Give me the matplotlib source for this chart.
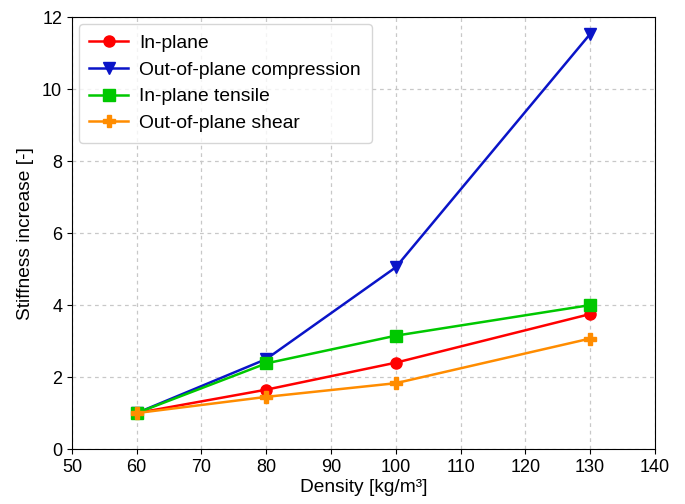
import numpy as np
import matplotlib
matplotlib.use("Agg")
import matplotlib.pyplot as plt

plt.rcParams['font.family'] = ['Liberation Sans', 'DejaVu Sans']

# Data
density = [60, 80, 100, 130]
in_plane = [1.0, 1.65, 2.40, 3.75]
oop_compression = [1.0, 2.50, 5.05, 11.53]
in_plane_tensile = [1.0, 2.38, 3.15, 4.00]
oop_shear = [1.0, 1.45, 1.83, 3.07]

labels = ["In-plane", "Out-of-plane compression", "In-plane tensile", "Out-of-plane shear"]

fig = plt.figure(figsize=(6.85, 5.04), dpi=100)
ax = fig.add_axes([0.105, 0.109, 0.851, 0.857])

ax.plot(density, in_plane, color="#ff0000", marker="o", markersize=8, lw=1.8, label=labels[0])
ax.plot(density, oop_compression, color="#0a14c8", marker="v", markersize=8, lw=1.8, label=labels[1])
ax.plot(density, in_plane_tensile, color="#00c800", marker="s", markersize=8, lw=1.8, label=labels[2])
ax.plot(density, oop_shear, color="#ff8c00", marker="P", markersize=8, lw=1.8, label=labels[3])

ax.set_xlim(50, 140)
ax.set_ylim(0, 12)
ax.set_xticks(np.arange(50, 141, 10))
ax.set_yticks(np.arange(0, 13, 2))
ax.tick_params(labelsize=13)
ax.grid(True, linestyle=(0, (3, 3)), color="#c8c8c8", lw=0.9)
ax.set_axisbelow(True)

ax.set_xlabel("Density [kg/m³]", fontsize=13.8, labelpad=2)
ax.set_ylabel("Stiffness increase [-]", fontsize=13.8, labelpad=6)

ax.legend(loc="upper left", fontsize=13.9, handlelength=2.0, handletextpad=0.6,
          borderpad=0.55, labelspacing=0.48, bbox_to_anchor=(-0.005, 1.007))

fig.savefig("out.png", dpi=100)
